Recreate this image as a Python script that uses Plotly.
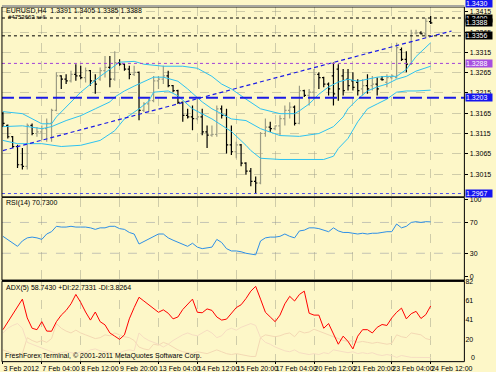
import plotly.graph_objects as go

W, H = 496, 372
BG = "#FDF7C8"
FONT = "Liberation Sans Narrow, Liberation Sans, Arial, sans-serif"

# ---------------- data ----------------
tick_bars = [0, 8, 16, 24, 32, 40, 48, 56, 64, 72, 80, 88]
tick_labels = ["3 Feb 2012", "7 Feb 04:00", "8 Feb 12:00", "9 Feb 20:00", "13 Feb 04:00",
               "14 Feb 12:00", "15 Feb 20:00", "17 Feb 04:00", "20 Feb 12:00",
               "21 Feb 20:00", "23 Feb 04:00", "24 Feb 12:00"]

opens = [1.3164, 1.3135, 1.3107, 1.3083, 1.3038, 1.3034, 1.3135, 1.3115, 1.3119, 1.3127,
         1.3140, 1.3172, 1.3257, 1.3249, 1.3245, 1.3261, 1.3257, 1.3253, 1.3270, 1.3245,
         1.3249, 1.3270, 1.3278, 1.3249, 1.3290, 1.3286, 1.3274, 1.3261, 1.3266, 1.3172,
         1.3188, 1.3196, 1.3245, 1.3249, 1.3257, 1.3233, 1.3221, 1.3192, 1.3160, 1.3156,
         1.3152, 1.3156, 1.3119, 1.3111, 1.3113, 1.3176, 1.3160, 1.3087, 1.3070, 1.3087,
         1.3042, 1.3022, 1.2997, 1.2993, 1.3115, 1.3131, 1.3127, 1.3134, 1.3152, 1.3172,
         1.3180, 1.3140, 1.3221, 1.3209, 1.3217, 1.3261, 1.3253, 1.3237, 1.3257, 1.3274,
         1.3257, 1.3249, 1.3245, 1.3241, 1.3225, 1.3233, 1.3233, 1.3237, 1.3249, 1.3241,
         1.3253, 1.3253, 1.3322, 1.3298, 1.3286, 1.3363, 1.3363, 1.3361, 1.3391]
highs = [1.3168, 1.3137, 1.3109, 1.3087, 1.3079, 1.3140, 1.3140, 1.3131, 1.3135, 1.3152,
         1.3176, 1.3266, 1.3259, 1.3261, 1.3270, 1.3286, 1.3282, 1.3278, 1.3272, 1.3261,
         1.3278, 1.3306, 1.3306, 1.3318, 1.3298, 1.3288, 1.3282, 1.3282, 1.3268, 1.3192,
         1.3200, 1.3257, 1.3257, 1.3282, 1.3270, 1.3235, 1.3223, 1.3194, 1.3176, 1.3184,
         1.3200, 1.3176, 1.3135, 1.3135, 1.3184, 1.3184, 1.3176, 1.3135, 1.3095, 1.3089,
         1.3044, 1.3030, 1.3009, 1.3119, 1.3152, 1.3144, 1.3135, 1.3160, 1.3184, 1.3192,
         1.3184, 1.3233, 1.3223, 1.3225, 1.3274, 1.3266, 1.3255, 1.3241, 1.3290, 1.3286,
         1.3274, 1.3274, 1.3266, 1.3249, 1.3249, 1.3261, 1.3257, 1.3253, 1.3257, 1.3261,
         1.3261, 1.3339, 1.3327, 1.3318, 1.3371, 1.3371, 1.3367, 1.3400, 1.3405]
lows = [1.3131, 1.3103, 1.3079, 1.3030, 1.3026, 1.3026, 1.3111, 1.3107, 1.3099, 1.3095,
        1.3095, 1.3170, 1.3225, 1.3237, 1.3241, 1.3245, 1.3249, 1.3241, 1.3233, 1.3213,
        1.3245, 1.3253, 1.3229, 1.3245, 1.3282, 1.3270, 1.3249, 1.3257, 1.3148, 1.3168,
        1.3168, 1.3192, 1.3225, 1.3237, 1.3229, 1.3217, 1.3188, 1.3144, 1.3152, 1.3123,
        1.3148, 1.3111, 1.3079, 1.3107, 1.3107, 1.3152, 1.3066, 1.3062, 1.3054, 1.3034,
        1.3013, 1.2985, 1.2967, 1.2990, 1.3107, 1.3119, 1.3123, 1.3111, 1.3135, 1.3152,
        1.3135, 1.3138, 1.3205, 1.3184, 1.3200, 1.3225, 1.3229, 1.3209, 1.3184, 1.3196,
        1.3209, 1.3221, 1.3221, 1.3209, 1.3209, 1.3213, 1.3221, 1.3209, 1.3245, 1.3229,
        1.3249, 1.3251, 1.3294, 1.3266, 1.3284, 1.3359, 1.3359, 1.3351, 1.3385]
closes = [1.3140, 1.3107, 1.3083, 1.3038, 1.3034, 1.3135, 1.3115, 1.3119, 1.3127, 1.3140,
          1.3172, 1.3257, 1.3249, 1.3245, 1.3261, 1.3257, 1.3253, 1.3270, 1.3245, 1.3237,
          1.3270, 1.3278, 1.3249, 1.3290, 1.3286, 1.3274, 1.3261, 1.3266, 1.3172, 1.3188,
          1.3196, 1.3245, 1.3249, 1.3257, 1.3233, 1.3221, 1.3192, 1.3160, 1.3156, 1.3152,
          1.3156, 1.3119, 1.3111, 1.3113, 1.3176, 1.3160, 1.3087, 1.3070, 1.3087, 1.3042,
          1.3022, 1.2997, 1.2993, 1.3115, 1.3131, 1.3127, 1.3134, 1.3152, 1.3172, 1.3180,
          1.3140, 1.3221, 1.3209, 1.3217, 1.3261, 1.3253, 1.3237, 1.3225, 1.3213, 1.3225,
          1.3221, 1.3233, 1.3229, 1.3221, 1.3233, 1.3225, 1.3237, 1.3225, 1.3248, 1.3253,
          1.3257, 1.3327, 1.3298, 1.3286, 1.3363, 1.3363, 1.3361, 1.3392, 1.3388]

upper_idx = [0, 4, 8, 10, 11, 13, 16, 20, 22, 24, 27, 29, 33, 37, 40, 43, 45, 47, 50, 53,
             57, 60, 61, 63, 65, 67, 69, 71, 73, 75, 77, 79, 81, 83, 85, 88]
upper_val = [1.3169, 1.3164, 1.3139, 1.3139, 1.3156, 1.3181, 1.3217, 1.3256, 1.3273, 1.3291,
             1.3293, 1.3286, 1.3281, 1.3281, 1.3276, 1.3256, 1.3237, 1.3225, 1.3200, 1.3176,
             1.3164, 1.3164, 1.3171, 1.3188, 1.3212, 1.3230, 1.3242, 1.3249, 1.3244, 1.3249,
             1.3254, 1.3256, 1.3256, 1.3273, 1.3305, 1.3339]
middle_idx = [0, 4, 8, 10, 13, 16, 19, 22, 23, 25, 27, 29, 31, 33, 36, 38, 41, 43, 47, 50,
              53, 57, 61, 65, 68, 70, 71, 73, 75, 77, 79, 81, 83, 85, 88]
middle_val = [1.3132, 1.3134, 1.3127, 1.3132, 1.3147, 1.3159, 1.3176, 1.3193, 1.3205, 1.3220,
              1.3232, 1.3244, 1.3254, 1.3254, 1.3244, 1.3225, 1.3193, 1.3176, 1.3151, 1.3147,
              1.3127, 1.3110, 1.3108, 1.3115, 1.3132, 1.3156, 1.3176, 1.3200, 1.3220, 1.3230,
              1.3237, 1.3249, 1.3256, 1.3269, 1.3281]
lower_idx = [0, 3, 8, 12, 16, 20, 23, 25, 28, 30, 31, 34, 36, 39, 43, 47, 50, 51, 53, 57,
             66, 68, 69, 71, 73, 75, 77, 79, 81, 83, 85, 88]
lower_val = [1.3098, 1.3090, 1.3090, 1.3083, 1.3086, 1.3098, 1.3122, 1.3151, 1.3176, 1.3195,
             1.3217, 1.3220, 1.3208, 1.3176, 1.3151, 1.3120, 1.3086, 1.3073, 1.3054, 1.3051,
             1.3051, 1.3059, 1.3078, 1.3103, 1.3144, 1.3176, 1.3188, 1.3200, 1.3217, 1.3220,
             1.3220, 1.3222]

trend_x = [0, 92.3]
trend_y = [1.3073, 1.3368]

price_ticks = [1.3015, 1.3065, 1.3115, 1.3165, 1.3215, 1.3265, 1.3315, 1.3365, 1.3415]
level_prices = [1.3400, 1.3356, 1.3288, 1.3203, 1.2967]
box_prices = [1.3430, 1.3400, 1.3388, 1.3356, 1.3288, 1.3203, 1.2967]

rsi = [52, 48, 44, 39, 46, 50, 51, 50, 48, 55,
       58, 65, 64, 64, 65, 64, 64, 64, 63, 61,
       63, 63, 65, 65, 62, 61, 57, 55, 42, 45,
       49, 52, 55, 55, 50, 47, 44, 42, 39, 43,
       38, 36, 37, 38, 48, 44, 36, 33, 33, 32,
       30, 29, 28, 46, 50, 51, 51, 52, 55, 52,
       50, 59, 60, 63, 63, 62, 60, 58, 63, 59,
       57, 57, 56, 55, 56, 55, 56, 56, 57, 58,
       58, 68, 63, 65, 70, 71, 70, 71, 70.73]
rsi_levels = [70, 30]
rsi_ticks = [0, 30, 70, 100]

adx = [33.5, 42, 50.5, 58, 66, 46, 35, 33.5, 42, 32,
       31.8, 42, 49, 54, 61, 71, 62.5, 52.3, 43.7, 52.3,
       42, 38.6, 30, 26.6, 23.2, 28, 45, 57, 68, 64,
       60, 57, 52, 54.6, 51, 45, 47, 55, 61, 66,
       52, 51.5, 55.6, 54, 47, 43.7, 44.7, 50.5, 57, 60,
       66.6, 74.5, 79.6, 66, 52, 47, 42, 49, 61, 69,
       64, 71, 74.5, 51, 49, 49, 35, 40, 28, 18,
       26.6, 21, 13, 26.6, 33.5, 33.5, 30, 36, 39, 38,
       46, 52, 56.4, 45, 50.5, 53, 45.4, 49.5, 58.74]
minus_di = [30, 35, 38, 40, 35,
            20, 18, 16, 14, 12, 10,
            8, 9, 10, 9, 8, 10, 9, 12, 13, 11, 10, 9, 8, 9, 11, 12, 11,
            30,
            25, 22, 20, 18, 15, 18, 22,
            25, 28, 30, 28, 27, 30, 33, 30, 25, 27, 33, 35, 33, 36, 38, 40, 38,
            25,
            20, 18, 15, 13, 11, 10, 12,
            9, 8, 7, 8, 7, 9, 8, 12, 11, 10, 9, 10, 8, 9, 8, 9, 7, 6, 7, 6,
            4, 6, 5, 4, 4, 4, 3.5, 3.8]
plus_di = [12, 10, 8, 7, 8,
           25, 22, 20, 22, 20, 24,
           40, 35, 32, 30, 33, 30, 28, 26, 24, 25, 28, 27, 30, 28, 26, 25, 22,
           15,
           13, 12, 18, 17, 20, 18, 15,
           12, 10, 9, 8, 10, 9, 8, 10, 12, 10, 8, 7, 8, 7, 6, 5, 5,
           25,
           28, 27, 26, 27, 29, 30, 26,
           32, 30, 31, 34, 32, 30, 28, 26, 24, 22, 21, 22, 20, 21, 20, 19, 20, 19, 18, 19,
           28, 26, 25, 30, 29, 28, 24, 22.7]
adx_ticks = [20, 41, 61, 82]

bars = list(range(len(closes)))

PRICE_RANGE = [1.29587, 1.34272]
MAIN_TOP, MAIN_BOT = 2, 194.5


def px(x):
    return x / W


def py(y):
    return 1 - y / H


# ---------------- figure ----------------
fig = go.Figure()
BAND = "#2EC2F0"
for xs, ys in [(upper_idx, upper_val), (middle_idx, middle_val), (lower_idx, lower_val)]:
    fig.add_trace(go.Scatter(x=xs, y=ys, mode="lines", line=dict(color=BAND, width=1),
                             xaxis="x", yaxis="y", hoverinfo="skip"))

fig.add_trace(go.Scatter(x=trend_x, y=trend_y, mode="lines",
                         line=dict(color="#1A1AE6", width=1.2, dash="4px,3px"),
                         xaxis="x", yaxis="y"))

fig.add_trace(go.Ohlc(x=bars, open=opens, high=highs, low=lows, close=closes,
                      increasing=dict(line=dict(color="#9C9C84", width=1.2)),
                      decreasing=dict(line=dict(color="#000000", width=1.2)),
                      tickwidth=0.35, xaxis="x", yaxis="y"))

fig.add_trace(go.Scatter(x=bars, y=rsi, mode="lines", line=dict(color="#2E8FE6", width=1),
                         xaxis="x2", yaxis="y2"))

fig.add_trace(go.Scatter(x=bars, y=plus_di, mode="lines", line=dict(color="#F3D8B4", width=1),
                         xaxis="x3", yaxis="y3"))
fig.add_trace(go.Scatter(x=bars, y=minus_di, mode="lines", line=dict(color="#F6DDC2", width=1),
                         xaxis="x3", yaxis="y3"))
fig.add_trace(go.Scatter(x=bars, y=adx, mode="lines", line=dict(color="#FF0000", width=1),
                         xaxis="x3", yaxis="y3"))

# ---------------- layout ----------------
XDOM = [px(2), px(472)]
XRANGE = [-0.2, 94.94]
GRID = "rgba(150,150,130,0.45)"
tf = dict(family=FONT, size=7, color="#000000")

common_x = dict(domain=XDOM, range=XRANGE, tickvals=tick_bars, showgrid=True,
                gridcolor=GRID, griddash="dash", gridwidth=1, zeroline=False,
                showline=False, fixedrange=True, tickangle=0)

shapes = []
level_styles = [
    dict(color="#000000", width=1, dash="dot"),
    dict(color="#000000", width=1, dash="dot"),
    dict(color="#A040D8", width=1, dash="dot"),
    dict(color="#1A1AE6", width=2, dash="12px,5px"),
    dict(color="#5050F0", width=1, dash="dot"),
]
for lv, st in zip(level_prices, level_styles):
    shapes.append(dict(type="line", xref="x domain", yref="y", x0=0, x1=1, y0=lv, y1=lv,
                       line=st, layer="above"))
for lv in rsi_levels:
    shapes.append(dict(type="line", xref="x2 domain", yref="y2", x0=0, x1=1, y0=lv, y1=lv,
                       line=dict(color="#C4C4B4", width=1, dash="dash"), layer="below"))
for y0, y1, w in [(MAIN_TOP, MAIN_BOT, 1), (195, 279, 1), (280, 361.5, 1)]:
    shapes.append(dict(type="rect", xref="paper", yref="paper", x0=px(2), x1=px(472),
                       y0=py(y1), y1=py(y0), line=dict(color="#000000", width=w),
                       fillcolor="rgba(0,0,0,0)", layer="above"))
shapes.append(dict(type="line", xref="paper", yref="paper", x0=px(2), x1=px(472),
                   y0=py(279.5), y1=py(279.5), line=dict(color="#000000", width=2)))
shapes.append(dict(type="line", xref="paper", yref="paper", x0=px(2), x1=px(472),
                   y0=py(1), y1=py(1), line=dict(color="#A8A8A0", width=2)))

annotations = [
    dict(x=px(4), y=py(6), xref="paper", yref="paper", xanchor="left", yanchor="middle",
         text="EURUSD,H4  1.3391 1.3405 1.3385 1.3388", showarrow=False, font=tf),
    dict(x=px(6), y=py(12.5), xref="paper", yref="paper", xanchor="left", yanchor="middle",
         text="#4753663 sell", showarrow=False, font=dict(family=FONT, size=6, color="#000")),
    dict(x=px(4), y=py(201), xref="paper", yref="paper", xanchor="left", yanchor="middle",
         text="RSI(14) 70.7300", showarrow=False, font=tf),
    dict(x=px(4), y=py(287), xref="paper", yref="paper", xanchor="left", yanchor="middle",
         text="ADX(5) 58.7430 +DI:22.7331 -DI:3.8264", showarrow=False, font=tf),
    dict(x=px(3), y=py(356), xref="paper", yref="paper", xanchor="left", yanchor="middle",
         text="FreshForex Terminal, © 2001-2011 MetaQuotes Software Corp.", showarrow=False,
         font=tf),
    dict(x=px(477), y=py(357), xref="paper", yref="paper", xanchor="left", yanchor="middle",
         text="0", showarrow=False, font=tf),
]
# price-per-pixel of the main panel, used to place labels that sit above the visible range
ppp = (PRICE_RANGE[1] - PRICE_RANGE[0]) / (MAIN_BOT - MAIN_TOP)
box_colors = ["#1414F0", "#000000", "#000000", "#000000", "#A64FE0", "#1414F0", "#1414F0"]
for bp, bc in zip(box_prices, box_colors):
    yv, ys, ya = bp, 0, "middle"
    if bp > PRICE_RANGE[1]:
        # label of a line just above the top edge: only its lower part shows, as in MT4
        yv, ys, ya = PRICE_RANGE[1], (bp - PRICE_RANGE[1]) / ppp - 2.5, "bottom"
    annotations.append(dict(x=px(473), y=yv, yshift=ys, xref="paper", yref="y", xanchor="left",
                            yanchor=ya, text=f"{bp:.4f}", showarrow=False,
                            bgcolor=bc, borderpad=0, width=26, align="left",
                            font=dict(family=FONT, size=7, color="#FFFFFF")))

fig.update_layout(
    width=W, height=H, margin=dict(l=0, r=0, t=0, b=0),
    paper_bgcolor=BG, plot_bgcolor=BG, showlegend=False, font=tf,
    xaxis=dict(**common_x, anchor="y", showticklabels=False, ticks="",
               rangeslider=dict(visible=False)),
    xaxis2=dict(**common_x, anchor="y2", matches="x", showticklabels=False, ticks=""),
    xaxis3=dict(**common_x, anchor="y3", matches="x", showticklabels=True,
                ticktext=tick_labels, ticks="outside", ticklen=2, tickcolor="#000",
                ticklabelposition="outside right", tickfont=tf),
    yaxis=dict(domain=[py(MAIN_BOT), py(MAIN_TOP)], range=PRICE_RANGE, side="right",
               anchor="x", tickvals=price_ticks, ticktext=[f"{p:.4f}" for p in price_ticks],
               ticks="outside", ticklen=3, tickcolor="#000", tickfont=tf,
               showgrid=True, gridcolor=GRID, griddash="dash", zeroline=False, fixedrange=True),
    yaxis2=dict(domain=[py(279), py(196)], range=[-5, 101.25], side="right", anchor="x2",
                tickvals=rsi_ticks, ticktext=[str(t) for t in rsi_ticks], ticks="outside",
                ticklen=3, tickcolor="#000", tickfont=tf, showgrid=False, zeroline=False),
    yaxis3=dict(domain=[py(361), py(281)], range=[0, 84], side="right", anchor="x3",
                tickvals=adx_ticks, ticktext=[str(t) for t in adx_ticks], ticks="",
                ticklabelshift=-3, tickfont=tf, showgrid=False, zeroline=False),
    shapes=shapes, annotations=annotations,
)

fig.write_html("out.html", config={"displayModeBar": False, "staticPlot": True},
               post_script="document.body.style.margin='0';document.body.style.padding='0';")
